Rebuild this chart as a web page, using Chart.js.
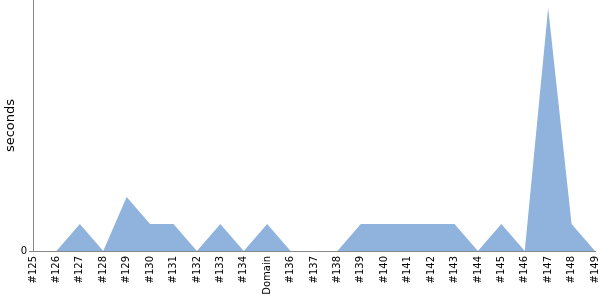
<!DOCTYPE html>
<html>
<head>
<meta charset="utf-8">
<script src="https://cdn.jsdelivr.net/npm/chart.js@4"></script>
<style>
  html, body { margin: 0; padding: 0; background: #fff; }
  #wrap { width: 600px; height: 300px; }
</style>
</head>
<body>
<div id="wrap"><canvas id="timeChart"></canvas></div>
<script>
// Build durations
const builds = [
    '#125', '#126', '#127', '#128', '#129', '#130', '#131', '#132', '#133', '#134',
    'Domain', '#136', '#137', '#138', '#139', '#140', '#141', '#142', '#143', '#144',
    '#145', '#146', '#147', '#148', '#149',
];

const seconds = [0, 0, 1, 0, 2, 1, 1, 0, 1, 0, 1, 0, 0, 0, 1, 1, 1, 1, 1, 0, 1, 0, 9, 1, 0];

const yTicks = [0];

const data = {
    labels: builds,
    datasets: [{
        label: 'seconds',
        data: seconds,
        fill: 'origin',
        backgroundColor: 'rgb(143, 179, 220)',
        borderWidth: 0,
        pointRadius: 0,
        tension: 0,
    }]
};

const options = {
    responsive: true,
    maintainAspectRatio: false,
    animation: false,
    layout: {
        padding: { top: 0, right: 5, left: 0, bottom: 0 }
    },
    plugins: {
        legend: { display: false },
        tooltip: { enabled: false }
    },
    scales: {
        x: {
            offset: false,
            grid: { display: false, drawTicks: false },
            border: { color: '#888', width: 1 },
            ticks: {
                autoSkip: false,
                minRotation: 90,
                maxRotation: 90,
                padding: 5,
                color: '#000',
                font: { family: 'DejaVu Sans', size: 10 }
            },
            afterFit: scale => {
                scale.height = 49;
                scale.paddingLeft = 0;
                scale.paddingRight = 0;
            }
        },
        y: {
            min: 0,
            max: 9.3,
            afterBuildTicks: scale => {
                scale.ticks = yTicks.map(v => ({ value: v }));
            },
            grid: {
                drawOnChartArea: false,
                tickLength: 4,
                color: '#888'
            },
            border: { color: '#888', width: 1 },
            ticks: {
                padding: 2,
                color: '#000',
                font: { family: 'DejaVu Sans', size: 10 }
            },
            title: {
                display: true,
                text: 'seconds',
                color: '#000',
                padding: { top: 3, bottom: 0 },
                font: { family: 'DejaVu Sans', size: 13 }
            },
            afterFit: scale => {
                scale.width = 33;
                scale.paddingTop = 0;
                scale.paddingBottom = 0;
            }
        }
    }
};

const timeChart = new Chart(document.getElementById('timeChart'), {
    type: 'line',
    data,
    options
});
</script>
</body>
</html>
